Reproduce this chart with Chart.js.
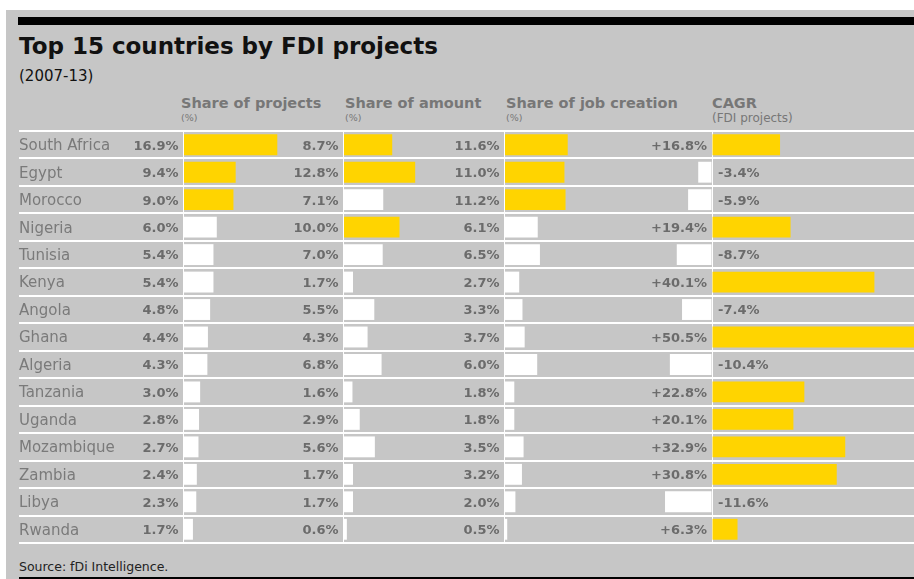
<!DOCTYPE html>
<html>
<head>
<meta charset="utf-8">
<script src="https://cdn.jsdelivr.net/npm/chart.js@4.4.0/dist/chart.umd.min.js"></script>
<style>
    body { margin: 0; width: 914px; height: 579px; background: #fff; position: relative; overflow: hidden; font-family: 'DejaVu Sans', sans-serif; }
    .abs { position: absolute; white-space: nowrap; line-height: 1; }
    #panel { position: absolute; left: 6px; top: 10px; width: 908px; height: 569px; background: #c6c6c6; }
    #topbar { position: absolute; left: 18px; top: 17px; width: 896px; height: 8px; background: #000; }
    #bottombar { position: absolute; left: 19px; top: 577px; width: 895px; height: 2px; background: #000; }
    #title { left: 19px; top: 35px; font-size: 23px; font-weight: bold; color: #111; }
    #subtitle { left: 19px; top: 69px; font-size: 15px; color: #111; }
    .head { top: 96px; font-size: 14.5px; font-weight: bold; color: #777; }
    .unit { top: 113px; font-size: 9.5px; color: #777; }
    .unit-big { top: 112px; font-size: 12px; color: #777; }
    #source { left: 19px; top: 561px; font-size: 12.5px; color: #222; }
    #table { position: absolute; left: 0; top: 126px; }
</style>
</head>
<body>
<div id="panel"></div>
<div id="topbar"></div>
<div class="abs" id="title">Top 15 countries by FDI projects</div>
<div class="abs" id="subtitle">(2007-13)</div>

<div class="abs head" style="left:181px">Share of projects</div>
<div class="abs unit" style="left:181px">(%)</div>
<div class="abs head" style="left:345px">Share of amount</div>
<div class="abs unit" style="left:345px">(%)</div>
<div class="abs head" style="left:506px">Share of job creation</div>
<div class="abs unit" style="left:506px">(%)</div>
<div class="abs head" style="left:712px">CAGR</div>
<div class="abs unit-big" style="left:712px">(FDI projects)</div>

<canvas id="table" width="914" height="422"></canvas>

<div class="abs" id="source">Source: fDi Intelligence.</div>
<div id="bottombar"></div>

<script>
// Data (2007-13)
const countries = ['South Africa', 'Egypt', 'Morocco', 'Nigeria', 'Tunisia', 'Kenya', 'Angola', 'Ghana',
    'Algeria', 'Tanzania', 'Uganda', 'Mozambique', 'Zambia', 'Libya', 'Rwanda'];
const shareProjects = [16.9, 9.4, 9.0, 6.0, 5.4, 5.4, 4.8, 4.4, 4.3, 3.0, 2.8, 2.7, 2.4, 2.3, 1.7];
const shareAmount = [8.7, 12.8, 7.1, 10.0, 7.0, 1.7, 5.5, 4.3, 6.8, 1.6, 2.9, 5.6, 1.7, 1.7, 0.6];
const shareJobs = [11.6, 11.0, 11.2, 6.1, 6.5, 2.7, 3.3, 3.7, 6.0, 1.8, 1.8, 3.5, 3.2, 2.0, 0.5];
const cagr = [16.8, -3.4, -5.9, 19.4, -8.7, 40.1, -7.4, 50.5, -10.4, 22.8, 20.1, 32.9, 30.8, -11.6, 6.3];

const YELLOW = '#ffd400';
const WHITE = '#ffffff';
const NAME_COLOR = '#7a7a7a';
const VALUE_COLOR = '#6b6b6b';

// where each column's zero sits (px) and how many px per percentage point
const AREA_LEFT = 19, AREA_RIGHT = 914;
const columns = [
    { id: 'x',  zero: 183.5, ppu: 5.55 },
    { id: 'x2', zero: 343.5, ppu: 5.6 },
    { id: 'x3', zero: 504.5, ppu: 5.45 },
    { id: 'x4', zero: 712,   ppu: 4.05 }
];

// top three of a column are yellow
const topThree = (values) => {
    const cut = [...values].sort((a, b) => b - a)[2];
    return values.map(v => v >= cut ? YELLOW : WHITE);
};

const fmtShare = v => v.toFixed(1) + '%';
const fmtGrowth = v => (v > 0 ? '+' : '') + v.toFixed(1) + '%';

function makeAxis(col) {
    return {
        type: 'linear',
        axis: 'x',
        position: 'bottom',
        min: (AREA_LEFT - col.zero) / col.ppu,
        max: (AREA_RIGHT - col.zero) / col.ppu,
        afterBuildTicks: (axis) => { axis.ticks = [{ value: 0 }]; },
        afterFit: (axis) => { axis.height = 0; },
        ticks: { display: false },
        border: { display: false },
        grid: { color: WHITE, lineWidth: 1, drawTicks: false }
    };
}

// country names and value labels next to the bars
const rowLabels = {
    id: 'rowLabels',
    afterDatasetsDraw(chart) {
        const ctx = chart.ctx;
        const yScale = chart.scales.y;
        ctx.save();
        ctx.textBaseline = 'middle';
        countries.forEach((name, i) => {
            const py = yScale.getPixelForValue(i) + 1.5;
            ctx.font = '15px "DejaVu Sans"';
            ctx.fillStyle = NAME_COLOR;
            ctx.textAlign = 'left';
            ctx.fillText(name, chart.chartArea.left, py);

            ctx.font = 'bold 13px "DejaVu Sans"';
            ctx.fillStyle = VALUE_COLOR;
            chart.data.datasets.forEach((ds, k) => {
                const v = ds.data[i];
                const zero = chart.scales[columns[k].id].getPixelForValue(0);
                if (k < 3) {
                    ctx.textAlign = 'right';
                    ctx.fillText(fmtShare(v), zero - 5, py);
                } else if (v > 0) {
                    ctx.textAlign = 'right';
                    ctx.fillText(fmtGrowth(v), zero - 5, py);
                } else {
                    ctx.textAlign = 'left';
                    ctx.fillText(fmtGrowth(v), zero + 6, py);
                }
            });
        });
        ctx.restore();
    }
};

function dataset(values, colors, axisId) {
    return {
        data: values,
        backgroundColor: colors,
        xAxisID: axisId,
        grouped: false,
        barPercentage: 0.76,
        categoryPercentage: 1
    };
}

const scales = {
    y: {
        type: 'category',
        offset: true,
        afterFit: (axis) => { axis.width = 0; },
        ticks: { display: false },
        border: { display: false },
        grid: { offset: true, color: WHITE, lineWidth: 2, drawTicks: false }
    }
};
columns.forEach(col => { scales[col.id] = makeAxis(col); });

new Chart(document.getElementById('table'), {
    type: 'bar',
    data: {
        labels: countries,
        datasets: [
            dataset(shareProjects, topThree(shareProjects), 'x'),
            dataset(shareAmount, topThree(shareAmount), 'x2'),
            dataset(shareJobs, topThree(shareJobs), 'x3'),
            dataset(cagr, cagr.map(v => v > 0 ? YELLOW : WHITE), 'x4')
        ]
    },
    options: {
        indexAxis: 'y',
        responsive: false,
        animation: false,
        layout: { padding: { left: AREA_LEFT, right: 0, top: 5, bottom: 5 } },
        scales: scales,
        plugins: {
            legend: { display: false },
            tooltip: { enabled: false }
        }
    },
    plugins: [rowLabels]
});
</script>
</body>
</html>
